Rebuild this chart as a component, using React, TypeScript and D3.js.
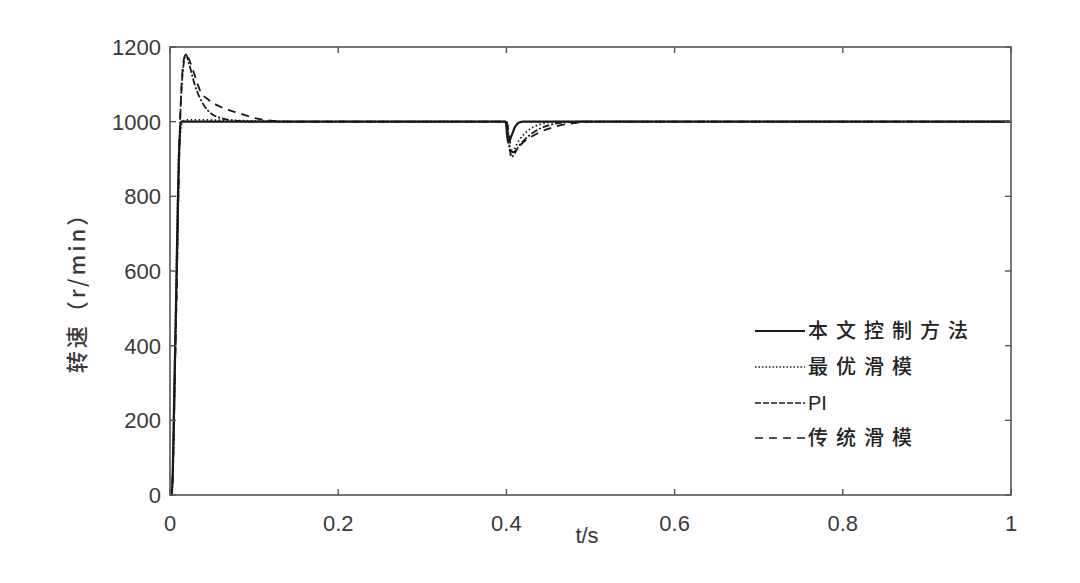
import React from 'react';
import * as d3 from 'd3';

// speed response curves, [t (s), speed (r/min)]
const proposed: [number, number][] = [
  [0, 0], [0.002, 0], [0.006, 380], [0.011, 930], [0.013, 1000], [0.399, 1000],
  [0.402, 944], [0.406, 962], [0.41, 985], [0.415, 998], [0.42, 1000], [1, 1000],
];
const optimalSmc: [number, number][] = [
  [0, 0], [0.002, 0], [0.006, 390], [0.011, 940], [0.015, 1000], [0.02, 1005],
  [0.06, 1004], [0.1, 1002], [0.15, 1000], [0.4, 1000], [0.405, 912], [0.415, 950],
  [0.425, 975], [0.44, 993], [0.46, 1000], [1, 1000],
];
const pi: [number, number][] = [
  [0, 0], [0.002, 0], [0.007, 450], [0.012, 1000], [0.016, 1150], [0.019, 1180],
  [0.022, 1160], [0.03, 1095], [0.04, 1045], [0.05, 1020], [0.06, 1010], [0.08, 1002],
  [0.1, 1000], [0.4, 1000], [0.406, 906], [0.415, 935], [0.43, 968], [0.45, 990],
  [0.47, 998], [0.49, 1000], [1, 1000],
];
const classicSmc: [number, number][] = [
  [0, 0], [0.002, 0], [0.007, 450], [0.012, 1000], [0.016, 1160], [0.019, 1182],
  [0.023, 1165], [0.03, 1120], [0.036, 1082], [0.045, 1060], [0.06, 1040], [0.083, 1022],
  [0.1, 1010], [0.12, 1003], [0.15, 1000], [0.4, 1000], [0.407, 918], [0.42, 945],
  [0.44, 972], [0.46, 988], [0.48, 996], [0.5, 1000], [1, 1000],
];

const seriesNames = ['本文控制方法', '最优滑模', 'PI', '传统滑模'];
const xTicks = [0, 0.2, 0.4, 0.6, 0.8, 1];
const yTicks = [0, 200, 400, 600, 800, 1000, 1200];

const dashes = ['none', '1.5,2.5', '7,2,2,2', '8,6'];
const legendDashes = ['none', '1.5,2', '6,2', '8,6'];

const App = () => {
  const margin = { left: 170, right: 69, top: 47, bottom: 88 };
  const W = 1080, H = 583;
  const x = d3.scaleLinear().domain([0, 1]).range([margin.left, W - margin.right]);
  const y = d3.scaleLinear().domain([0, 1200]).range([H - margin.bottom, margin.top]);
  const line = d3.line<[number, number]>()
    .x(d => x(d[0]))
    .y(d => y(d[1]))
    .curve(d3.curveMonotoneX);

  const series = [proposed, optimalSmc, pi, classicSmc];
  const axisColor = '#555';
  const textColor = '#3a3a3a';
  const tickFont = '"Liberation Sans", Arial, sans-serif';
  const cjkFont = '"Noto Sans CJK SC", sans-serif';
  const x0 = x(0), x1 = x(1), y0 = y(0), y1 = y(1200);

  return (
    <svg width={W} height={H} style={{ position: 'absolute', left: 0, top: 0, background: '#fff' }}>
      <rect x={0} y={0} width={W} height={H} fill="#fff" />

      {/* data */}
      {series.map((s, i) => (
        <path key={i} d={line(s) || ''} fill="none" stroke="#1a1a1a"
          strokeWidth={i === 0 ? 2.2 : 1.8} strokeDasharray={dashes[i]} />
      ))}

      {/* box */}
      <rect x={x0} y={y1} width={x1 - x0} height={y0 - y1} fill="none" stroke={axisColor} strokeWidth={1.6} />

      {/* ticks */}
      {xTicks.map(t => (
        <g key={'x' + t}>
          <line x1={x(t)} x2={x(t)} y1={y0} y2={y0 - 6} stroke={axisColor} strokeWidth={1.4} />
          <line x1={x(t)} x2={x(t)} y1={y1} y2={y1 + 6} stroke={axisColor} strokeWidth={1.4} />
          <text x={x(t)} y={y0 + 36} textAnchor="middle" fontFamily={tickFont} fontSize={22} fill={textColor}>
            {String(t)}
          </text>
        </g>
      ))}
      {yTicks.map(t => (
        <g key={'y' + t}>
          <line x1={x0} x2={x0 + 6} y1={y(t)} y2={y(t)} stroke={axisColor} strokeWidth={1.4} />
          <line x1={x1} x2={x1 - 6} y1={y(t)} y2={y(t)} stroke={axisColor} strokeWidth={1.4} />
          <text x={x0 - 9} y={y(t) + 8} textAnchor="end" fontFamily={tickFont} fontSize={22} fill={textColor}>
            {t}
          </text>
        </g>
      ))}

      {/* axis labels */}
      <text x={587} y={543} textAnchor="middle" fontFamily={tickFont} fontSize={22} fill={textColor}>t/s</text>
      <text transform={`translate(85,287) rotate(-90)`} textAnchor="middle" fontFamily={cjkFont}
        fontSize={22} fontWeight={500} letterSpacing={3} fill={textColor}>转速（r/min）</text>

      {/* legend */}
      {seriesNames.map((n, i) => {
        const ly = [331, 367, 403, 438][i];
        return (
          <g key={n}>
            <line x1={755} x2={805} y1={ly} y2={ly} stroke="#1a1a1a"
              strokeWidth={i === 0 ? 2.2 : 1.6} strokeDasharray={legendDashes[i]} />
            <text x={808} y={ly + 7} fontFamily={n === 'PI' ? tickFont : cjkFont} fontSize={20}
              fontWeight={n === 'PI' ? 400 : 500}
              letterSpacing={n === 'PI' ? 0 : 8} fill="#222">{n}</text>
          </g>
        );
      })}
    </svg>
  );
};

export default App;
